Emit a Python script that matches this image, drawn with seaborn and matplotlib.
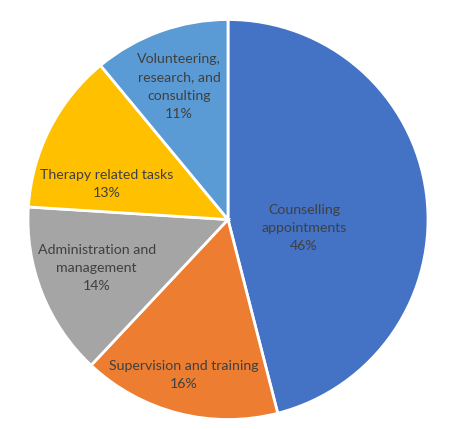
import numpy as np
import seaborn as sns
import matplotlib.pyplot as plt

# Datos del grafico
categories = ["Counselling\nappointments", "Supervision and training",
              "Administration and\nmanagement", "Therapy related tasks",
              "Volunteering,\nresearch, and\nconsulting"]
shares = [46, 16, 14, 13, 11]
slice_colors = ["#4472C4", "#ED7D31", "#A5A5A5", "#FFC000", "#5B9BD5"]

# Posiciones de las etiquetas (unidades del radio)
label_pos = [(0.38, -0.041), (-0.22, -0.776), (-0.657, -0.243),
             (-0.607, 0.177), (-0.245, 0.665)]

sns.set_theme(style="white")
plt.rcParams["font.family"] = ["Lato", "DejaVu Sans"]
palette = sns.color_palette(slice_colors)

fig = plt.figure(figsize=(4.62, 4.29), dpi=100)
ax = fig.add_axes([0.4935 - 0.4329, 0.4883 - 0.4662, 0.8658, 0.9324])

wedges, _ = ax.pie(shares, colors=palette, startangle=90, counterclock=False,
                   radius=1.0,
                   wedgeprops=dict(edgecolor="white", linewidth=2))

for lab, val, (x, y) in zip(categories, shares, label_pos):
    ax.text(x, y, f"{lab}\n{val}%", ha="center", va="center",
            fontsize=10.2, color="#404040", linespacing=1.62)

ax.set_xlim(-1.0, 1.0)
ax.set_ylim(-1.0, 1.0)
ax.set_aspect("auto")
ax.axis("off")

fig.savefig("out.png", dpi=100)
